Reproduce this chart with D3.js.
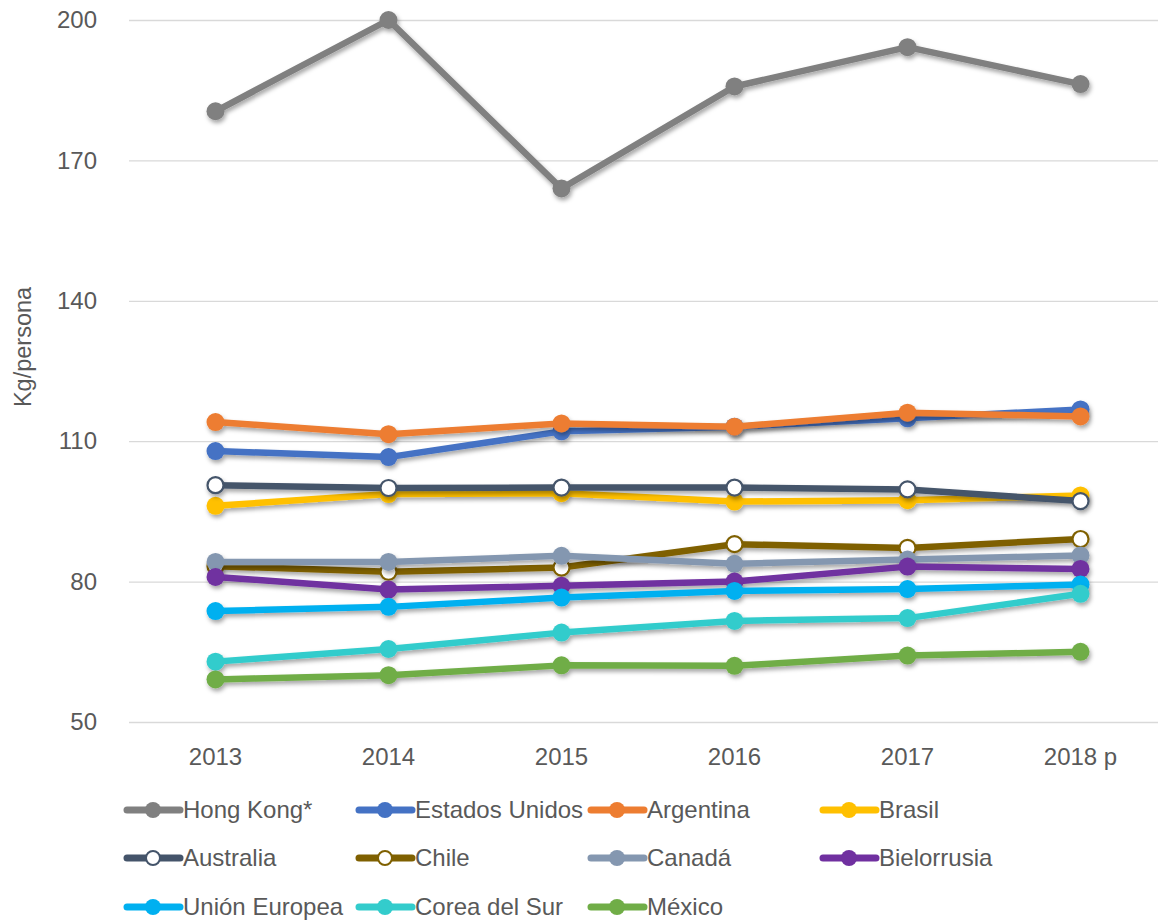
<!DOCTYPE html>
<html><head><meta charset="utf-8">
<script src="https://cdn.jsdelivr.net/npm/d3@7"></script>
<style>
html,body{margin:0;padding:0;background:#fff;}
svg{display:block;font-family:"Liberation Sans",Arial,sans-serif;}
</style></head>
<body>
<svg id="chart" width="1158" height="920"></svg>
<script>
const years = ["2013","2014","2015","2016","2017","2018 p"];
const yTicks = [50,80,110,140,170,200];
const seriesNames = ["Hong Kong*","Estados Unidos","Argentina","Brasil","Australia","Chile","Canadá","Bielorrusia","Unión Europea","Corea del Sur","México"];
const hongKong     = [180.5,200.0,164.0,185.8,194.2,186.3];
const estadosUnidos= [107.9,106.6,112.1,113.1,114.9,116.8];
const argentina    = [114.1,111.5,113.8,113.1,116.1,115.3];
const brasil       = [96.2,98.7,98.9,97.1,97.4,98.4];
const australia    = [100.6,100.0,100.1,100.1,99.7,97.2];
const chile        = [83.3,82.1,83.0,88.0,87.2,89.1];
const canada       = [84.2,84.2,85.5,83.8,84.7,85.6];
const bielorrusia  = [81.0,78.3,79.1,80.0,83.2,82.7];
const unionEuropea = [73.7,74.6,76.6,78.0,78.4,79.4];
const coreaDelSur  = [62.9,65.6,69.1,71.6,72.2,77.4];
const mexico       = [59.1,60.0,62.1,62.0,64.2,65.0];
const colors = ["#808080","#4472c4","#ed7d31","#ffc000","#44546a","#7f6000","#8497b0","#7030a0","#00b0f0","#33cccc","#70ad47"];
const hollow = [false,false,false,false,true,true,false,false,false,false,false];
const values = [hongKong,estadosUnidos,argentina,brasil,australia,chile,canada,bielorrusia,unionEuropea,coreaDelSur,mexico];

const series = seriesNames.map((n,i)=>({name:n,color:colors[i],hollow:hollow[i],values:values[i]}));

const svg = d3.select("#chart");
const defs = svg.append("defs");
const f = defs.append("filter").attr("id","shadow").attr("x","-20%").attr("y","-20%").attr("width","140%").attr("height","160%");
f.append("feDropShadow").attr("dx",1.5).attr("dy",3).attr("stdDeviation",2).attr("flood-color","#000").attr("flood-opacity",0.35);

const x = d3.scaleBand().domain(years).range([129,1167]);
const y = d3.scaleLinear().domain([50,200]).range([722,20]);
const cx = d => x(d) + x.bandwidth()/2;

// gridlines + y labels
const yAxis = d3.axisLeft(y).tickValues(yTicks).tickSize(-(1158-129)).tickPadding(32);
const gy = svg.append("g").attr("transform","translate(129,0)").call(yAxis);
gy.select(".domain").remove();
gy.selectAll(".tick line").attr("stroke","#d9d9d9").attr("stroke-width",1.3);
gy.selectAll(".tick text").attr("fill","#595959").attr("font-size",24).attr("text-anchor","end")
  .attr("font-family","Liberation Sans, Arial, sans-serif").attr("x",-32);

// x axis labels
const xAxis = d3.axisBottom(x).tickSize(0).tickPadding(0);
const gx = svg.append("g").attr("transform","translate(0,0)").call(xAxis);
gx.select(".domain").remove();
gx.selectAll(".tick text").attr("fill","#595959").attr("font-size",24).attr("y",765).attr("dy",0)
  .attr("font-family","Liberation Sans, Arial, sans-serif");

// y title
svg.append("text").attr("transform","translate(31,347) rotate(-90)").attr("text-anchor","middle")
  .attr("fill","#595959").attr("font-size",23.5).text("Kg/persona");

const line = d3.line().x((d,i)=>cx(years[i])).y(d=>y(d));

series.forEach(s=>{
  const g = svg.append("g").attr("filter","url(#shadow)");
  g.append("path").datum(s.values).attr("d",line).attr("fill","none")
    .attr("stroke",s.color).attr("stroke-width",6.5).attr("stroke-linejoin","round");
  g.selectAll("circle").data(s.values).enter().append("circle")
    .attr("cx",(d,i)=>cx(years[i])).attr("cy",d=>y(d))
    .attr("r",s.hollow?8:9)
    .attr("fill",s.hollow?"#fff":s.color)
    .attr("stroke",s.hollow?s.color:"none").attr("stroke-width",2.2);
});

// legend
const colX = [125,357,589,821];
const rowY = [810,858,907];
const lg = svg.append("g");
series.forEach((s,i)=>{
  const c = i%4, r = Math.floor(i/4);
  const gx0 = colX[c], gy0 = rowY[r];
  const g = lg.append("g").attr("transform",`translate(${gx0},${gy0})`);
  g.append("line").attr("x1",2).attr("x2",55).attr("y1",0).attr("y2",0)
    .attr("stroke",s.color).attr("stroke-width",7).attr("stroke-linecap","round");
  g.append("circle").attr("cx",28).attr("cy",0).attr("r",s.hollow?7:8)
    .attr("fill",s.hollow?"#fff":s.color).attr("stroke",s.hollow?s.color:"none").attr("stroke-width",2);
  g.append("text").attr("x",58).attr("y",0).attr("dy","0.35em").attr("fill","#595959")
    .attr("font-size",24).text(s.name);
});
</script>
</body></html>
